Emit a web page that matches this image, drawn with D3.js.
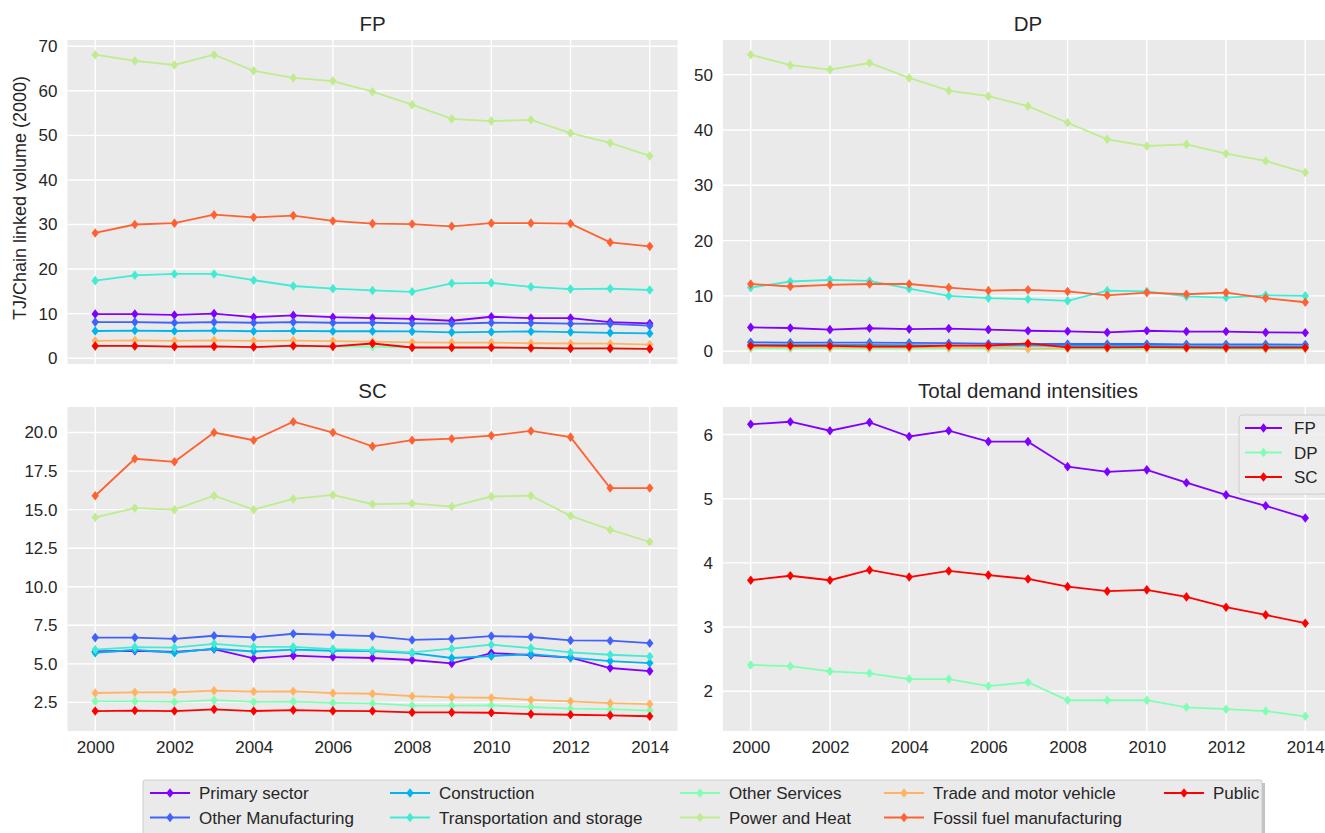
<!DOCTYPE html>
<html>
<head>
<meta charset="utf-8">
<script src="https://cdn.jsdelivr.net/npm/d3@7"></script>
<style>
  html, body { margin: 0; padding: 0; background: #fff; }
  svg { display: block; font-family: "Liberation Sans", Arial, sans-serif; }
</style>
</head>
<body>
<svg id="chart" width="1325" height="833"></svg>
<script>
// ---- data -----------------------------------------------------------
const years = [2000, 2001, 2002, 2003, 2004, 2005, 2006, 2007, 2008, 2009, 2010, 2011, 2012, 2013, 2014];
const xTicks = [2000, 2002, 2004, 2006, 2008, 2010, 2012, 2014];

const sectors = [
  "Primary sector", "Other Manufacturing", "Construction", "Transportation and storage",
  "Other Services", "Power and Heat", "Trade and motor vehicle", "Fossil fuel manufacturing", "Public"
];

// FP: final production intensities
const fpPrimary   = [9.9, 9.9, 9.7, 10.0, 9.2, 9.6, 9.2, 9.0, 8.8, 8.4, 9.3, 9.0, 9.0, 8.1, 7.8];
const fpOtherMan  = [8.1, 8.1, 7.95, 8.1, 7.95, 8.1, 7.95, 7.95, 7.8, 7.75, 7.95, 7.9, 7.75, 7.7, 7.3];
const fpConstr    = [6.1, 6.2, 6.1, 6.2, 6.05, 6.15, 6.05, 6.05, 6.0, 5.8, 5.9, 6.0, 5.85, 5.7, 5.55];
const fpTransport = [17.4, 18.6, 18.9, 18.9, 17.5, 16.2, 15.6, 15.2, 14.9, 16.8, 16.9, 16.0, 15.5, 15.6, 15.3];
const fpOtherServ = [2.7, 2.7, 2.6, 2.6, 2.5, 2.7, 2.6, 2.6, 2.4, 2.3, 2.3, 2.2, 2.1, 2.1, 2.0];
const fpPower     = [68.1, 66.7, 65.8, 68.1, 64.5, 62.9, 62.2, 59.8, 56.9, 53.7, 53.2, 53.5, 50.5, 48.3, 45.4];
const fpTrade     = [3.9, 4.0, 3.9, 4.0, 3.9, 3.95, 3.85, 3.7, 3.55, 3.5, 3.5, 3.35, 3.3, 3.25, 3.05];
const fpFossil    = [28.1, 30.0, 30.3, 32.2, 31.6, 32.0, 30.8, 30.2, 30.1, 29.6, 30.3, 30.3, 30.2, 26.0, 25.1];
const fpPublic    = [2.75, 2.75, 2.6, 2.65, 2.5, 2.8, 2.65, 3.3, 2.4, 2.4, 2.4, 2.3, 2.2, 2.2, 2.1];

// DP: domestic production intensities
const dpPrimary   = [4.3, 4.2, 3.9, 4.15, 4.0, 4.1, 3.9, 3.7, 3.6, 3.4, 3.7, 3.55, 3.55, 3.4, 3.35];
const dpOtherMan  = [1.6, 1.55, 1.55, 1.55, 1.5, 1.45, 1.35, 1.3, 1.3, 1.3, 1.3, 1.25, 1.25, 1.25, 1.2];
const dpConstr    = [1.2, 1.2, 1.15, 1.15, 1.1, 1.05, 1.0, 1.0, 0.95, 0.95, 0.95, 0.9, 0.9, 0.9, 0.85];
const dpTransport = [11.5, 12.6, 12.9, 12.7, 11.3, 10.0, 9.6, 9.4, 9.1, 10.95, 10.8, 9.9, 9.7, 10.1, 10.0];
const dpOtherServ = [0.5, 0.5, 0.5, 0.45, 0.45, 0.5, 0.45, 0.4, 0.4, 0.4, 0.4, 0.4, 0.35, 0.35, 0.35];
const dpPower     = [53.6, 51.7, 50.9, 52.1, 49.4, 47.1, 46.1, 44.3, 41.3, 38.3, 37.1, 37.4, 35.7, 34.4, 32.3];
const dpTrade     = [0.75, 0.75, 0.7, 0.7, 0.7, 0.7, 0.65, 0.45, 0.6, 0.6, 0.6, 0.55, 0.55, 0.5, 0.5];
const dpFossil    = [12.15, 11.7, 12.0, 12.15, 12.15, 11.5, 10.95, 11.1, 10.8, 10.1, 10.6, 10.3, 10.6, 9.6, 8.85];
const dpPublic    = [1.0, 0.98, 0.95, 0.85, 0.85, 1.0, 1.0, 1.4, 0.7, 0.7, 0.75, 0.68, 0.65, 0.65, 0.65];

// SC: supply chain intensities
const scPrimary   = [5.8, 5.85, 5.77, 5.96, 5.35, 5.53, 5.44, 5.38, 5.25, 5.03, 5.7, 5.57, 5.4, 4.73, 4.53];
const scOtherMan  = [6.7, 6.7, 6.62, 6.82, 6.72, 6.95, 6.88, 6.8, 6.55, 6.62, 6.8, 6.74, 6.52, 6.5, 6.34];
const scConstr    = [5.72, 5.9, 5.72, 5.98, 5.8, 5.92, 5.85, 5.82, 5.7, 5.38, 5.5, 5.63, 5.4, 5.18, 5.05];
const scTransport = [5.92, 6.09, 6.05, 6.3, 6.1, 6.1, 5.96, 5.88, 5.74, 5.98, 6.24, 6.02, 5.74, 5.59, 5.48];
const scOtherServ = [2.57, 2.57, 2.53, 2.65, 2.53, 2.55, 2.47, 2.43, 2.29, 2.29, 2.31, 2.2, 2.09, 2.06, 1.97];
const scPower     = [14.5, 15.1, 15.0, 15.9, 15.0, 15.7, 15.95, 15.35, 15.4, 15.2, 15.85, 15.9, 14.6, 13.7, 12.9];
const scTrade     = [3.11, 3.15, 3.15, 3.26, 3.2, 3.22, 3.1, 3.06, 2.9, 2.83, 2.8, 2.66, 2.57, 2.45, 2.39];
const scFossil    = [15.9, 18.3, 18.1, 20.0, 19.5, 20.7, 20.0, 19.1, 19.5, 19.6, 19.8, 20.1, 19.7, 16.4, 16.4];
const scPublic    = [1.94, 1.97, 1.94, 2.05, 1.94, 2.0, 1.95, 1.94, 1.85, 1.85, 1.83, 1.74, 1.7, 1.66, 1.6];

// Total demand intensities
const totalNames = ["FP", "DP", "SC"];
const totalFP = [6.16, 6.2, 6.06, 6.19, 5.97, 6.06, 5.89, 5.89, 5.5, 5.42, 5.45, 5.25, 5.06, 4.89, 4.7];
const totalDP = [2.41, 2.39, 2.31, 2.28, 2.19, 2.19, 2.08, 2.14, 1.86, 1.86, 1.86, 1.75, 1.72, 1.69, 1.61];
const totalSC = [3.73, 3.8, 3.73, 3.89, 3.78, 3.875, 3.81, 3.75, 3.63, 3.56, 3.58, 3.47, 3.31, 3.19, 3.06];

const fpTicks = [0, 10, 20, 30, 40, 50, 60, 70];
const dpTicks = [0, 10, 20, 30, 40, 50];
const scTicks = [2.5, 5.0, 7.5, 10.0, 12.5, 15.0, 17.5, 20.0];
const totalTicks = [2, 3, 4, 5, 6];

// ---- styling --------------------------------------------------------
const rainbow = t => {
  const r = Math.min(1, Math.abs(2 * t - 0.5));
  const g = Math.sin(Math.PI * t);
  const b = Math.cos(Math.PI * t / 2);
  return d3.rgb(r * 255, g * 255, b * 255).formatHex();
};
const sectorColors = sectors.map((_, i) => rainbow(i / (sectors.length - 1)));
const totalColors = [rainbow(0), rainbow(0.5), rainbow(1)];

const BG = "#EAEAEA";
const TEXT = "#262626";
const TICK_FS = 17;
const TITLE_FS = 20.5;
const LEGEND_FS = 17;
const LW = 1.8;

const svg = d3.select("#chart");

const panelW = 610, panelH = 324;
const panels = [
  { title: "FP", x: 67.5, y: 40, ticks: fpTicks, fmt: d3.format("d"), xLabels: false,
    series: [fpPrimary, fpOtherMan, fpConstr, fpTransport, fpOtherServ, fpPower, fpTrade, fpFossil, fpPublic], colors: sectorColors },
  { title: "DP", x: 723, y: 40, ticks: dpTicks, fmt: d3.format("d"), xLabels: false,
    series: [dpPrimary, dpOtherMan, dpConstr, dpTransport, dpOtherServ, dpPower, dpTrade, dpFossil, dpPublic], colors: sectorColors },
  { title: "SC", x: 67.5, y: 407, ticks: scTicks, fmt: d3.format(".1f"), xLabels: true,
    series: [scPrimary, scOtherMan, scConstr, scTransport, scOtherServ, scPower, scTrade, scFossil, scPublic], colors: sectorColors },
  { title: "Total demand intensities", x: 723, y: 407, ticks: totalTicks, fmt: d3.format("d"), xLabels: true,
    series: [totalFP, totalDP, totalSC], colors: totalColors, legend: totalNames }
];

const diamond = "M0,-4.8L3.7,0L0,4.8L-3.7,0Z";

panels.forEach(p => {
  const g = svg.append("g").attr("transform", `translate(${p.x},${p.y})`);
  const span = years[years.length - 1] - years[0];
  const x = d3.scaleLinear()
    .domain([years[0] - span * 0.05, years[years.length - 1] + span * 0.05])
    .range([0, panelW]);
  const all = p.series.flat();
  const lo = d3.min(all), hi = d3.max(all), pad = (hi - lo) * 0.05;
  const y = d3.scaleLinear().domain([lo - pad, hi + pad]).range([panelH, 0]);

  g.append("rect").attr("width", panelW).attr("height", panelH).attr("fill", BG);

  // grid
  g.selectAll(".gy").data(p.ticks).join("line")
    .attr("x1", 0).attr("x2", panelW)
    .attr("y1", d => y(d)).attr("y2", d => y(d))
    .attr("stroke", "#fff").attr("stroke-width", 1.4);
  g.selectAll(".gx").data(xTicks).join("line")
    .attr("x1", d => x(d)).attr("x2", d => x(d))
    .attr("y1", 0).attr("y2", panelH)
    .attr("stroke", "#fff").attr("stroke-width", 1.4);

  // axes (labels only, no tick marks)
  const yAxis = g.append("g").call(d3.axisLeft(y).tickValues(p.ticks).tickFormat(p.fmt).tickSize(0).tickPadding(10));
  yAxis.select(".domain").remove();
  yAxis.selectAll("text").attr("font-size", TICK_FS).attr("fill", TEXT)
    .attr("font-family", "Liberation Sans, Arial, sans-serif");
  if (p.xLabels) {
    const xAxis = g.append("g").attr("transform", `translate(0,${panelH})`)
      .call(d3.axisBottom(x).tickValues(xTicks).tickFormat(d3.format("d")).tickSize(0).tickPadding(10));
    xAxis.select(".domain").remove();
    xAxis.selectAll("text").attr("font-size", TICK_FS).attr("fill", TEXT)
      .attr("font-family", "Liberation Sans, Arial, sans-serif");
  }

  // title
  g.append("text").attr("x", panelW / 2).attr("y", -9)
    .attr("text-anchor", "middle").attr("font-size", TITLE_FS).attr("fill", TEXT).text(p.title);

  // series
  const line = d3.line().x((d, i) => x(years[i])).y(d => y(d));
  p.series.forEach((s, k) => {
    const c = p.colors[k];
    g.append("path").datum(s).attr("d", line)
      .attr("fill", "none").attr("stroke", c).attr("stroke-width", LW);
    g.append("g").selectAll("path").data(s).join("path")
      .attr("transform", (d, i) => `translate(${x(years[i])},${y(d)})`)
      .attr("d", diamond).attr("fill", c);
  });

  // inner legend
  if (p.legend) {
    const lg = g.append("g").attr("transform", `translate(${panelW - 94},8)`);
    lg.append("rect").attr("width", 88).attr("height", 79).attr("rx", 3)
      .attr("fill", "#EDEDED").attr("fill-opacity", 0.9).attr("stroke", "#cccccc");
    p.legend.forEach((name, k) => {
      const row = lg.append("g").attr("transform", `translate(6,${13 + k * 24.5})`);
      row.append("line").attr("x1", 0).attr("x2", 37).attr("stroke", p.colors[k]).attr("stroke-width", LW);
      row.append("path").attr("transform", "translate(18.5,0)").attr("d", diamond).attr("fill", p.colors[k]);
      row.append("text").attr("x", 49).attr("y", 6).attr("font-size", LEGEND_FS).attr("fill", TEXT).text(name);
    });
  }
});

// shared y-axis title
svg.append("text")
  .attr("transform", "translate(26,198) rotate(-90)")
  .attr("text-anchor", "middle").attr("font-size", 18).attr("fill", TEXT)
  .text("TJ/Chain linked volume (2000)");

// ---- bottom legend ----------------------------------------------------
const leg = svg.append("g").attr("transform", "translate(143,780)");
leg.append("rect").attr("x", 3).attr("y", 3).attr("width", 1119).attr("height", 60)
  .attr("fill", "#9a9a9a").attr("fill-opacity", 0.6);
leg.append("rect").attr("width", 1119).attr("height", 60).attr("rx", 2)
  .attr("fill", "#EAEAEA").attr("stroke", "#cccccc");
const colX = [7, 247, 537, 741, 1021];
sectors.forEach((name, i) => {
  const col = Math.floor(i / 2), row = i % 2;
  const e = leg.append("g").attr("transform", `translate(${colX[col]},${13 + row * 24.5})`);
  e.append("line").attr("x1", 0).attr("x2", 40).attr("stroke", sectorColors[i]).attr("stroke-width", LW);
  e.append("path").attr("transform", "translate(20,0)").attr("d", diamond).attr("fill", sectorColors[i]);
  e.append("text").attr("x", 49).attr("y", 6).attr("font-size", LEGEND_FS).attr("fill", TEXT).text(name);
});
</script>
</body>
</html>
